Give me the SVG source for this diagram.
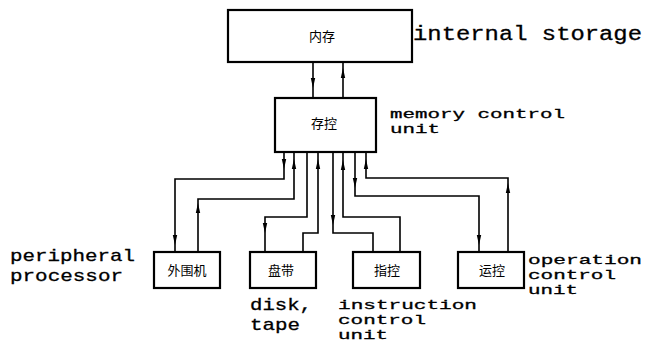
<svg xmlns="http://www.w3.org/2000/svg" xmlns:xlink="http://www.w3.org/1999/xlink" width="646" height="349" viewBox="0 0 646 349">
<style>
.box{fill:#fff;stroke:#000;stroke-width:2.2}
.cn{font-family:"Noto Sans CJK SC","Noto Sans",sans-serif;font-size:13px;fill:#000;text-anchor:middle}
.lb{font-family:"Liberation Mono","DejaVu Sans Mono",monospace;font-size:20px;fill:#000;stroke:#000;stroke-width:0.3}
.md{font-size:17px}
.sm{font-size:13.5px}
.ln{fill:none;stroke:#000;stroke-width:1.6}
.ah{fill:#000;stroke:none}
</style>
<defs>
<path id="dn" class="ah" d="M-2.2,-5 L2.2,-5 L0,5 Z"/>
<path id="up" class="ah" d="M-2.2,5 L2.2,5 L0,-5 Z"/>
</defs>
<rect width="646" height="349" fill="#fff"/>
<g id="connectors">
<path class="ln" d="M313,62 V98"/>
<path class="ln" d="M343,62 V98"/>
<path class="ln" d="M284,152 V179 H175 V252"/>
<path class="ln" d="M294,152 V199 H198 V252"/>
<path class="ln" d="M307,152 V217 H265 V252"/>
<path class="ln" d="M318,152 V233 H303 V252"/>
<path class="ln" d="M333,152 V233 H373 V252"/>
<path class="ln" d="M343,152 V217 H400 V252"/>
<path class="ln" d="M355,152 V196 H479 V252"/>
<path class="ln" d="M366,152 V178 H508 V252"/>
<use xlink:href="#dn" x="313" y="83"/>
<use xlink:href="#up" x="343" y="73"/>
<use xlink:href="#dn" x="284" y="164"/>
<use xlink:href="#dn" x="175" y="240"/>
<use xlink:href="#up" x="294" y="164"/>
<use xlink:href="#up" x="198" y="208"/>
<use xlink:href="#dn" x="265" y="228"/>
<use xlink:href="#up" x="318" y="164"/>
<use xlink:href="#dn" x="333" y="220"/>
<use xlink:href="#up" x="343" y="165"/>
<use xlink:href="#dn" x="355" y="183"/>
<use xlink:href="#dn" x="479" y="240"/>
<use xlink:href="#up" x="366" y="164"/>
<use xlink:href="#up" x="508" y="188"/>
</g>
<g id="internal-storage">
<rect class="box" x="228" y="10" width="184" height="52"/>
<text class="cn" x="322" y="41">内存</text>
<text class="lb" x="413" y="40" textLength="229" lengthAdjust="spacingAndGlyphs">internal storage</text>
</g>
<g id="memory-control">
<rect class="box" x="275" y="98" width="101" height="54"/>
<text class="cn" x="324" y="128">存控</text>
<text class="lb sm" x="390" y="118" textLength="175" lengthAdjust="spacingAndGlyphs">memory control</text>
<text class="lb sm" x="390" y="133" textLength="50" lengthAdjust="spacingAndGlyphs">unit</text>
</g>
<g id="peripheral-processor">
<rect class="box" x="154" y="252" width="66" height="36"/>
<text class="cn" x="187" y="275">外围机</text>
<text class="lb md" x="10" y="261" textLength="125" lengthAdjust="spacingAndGlyphs">peripheral</text>
<text class="lb md" x="10" y="281" textLength="113" lengthAdjust="spacingAndGlyphs">processor</text>
</g>
<g id="disk-tape">
<rect class="box" x="250" y="252" width="66" height="36"/>
<text class="cn" x="281" y="275">盘带</text>
<text class="lb md" x="250" y="310" textLength="62" lengthAdjust="spacingAndGlyphs">disk,</text>
<text class="lb md" x="250" y="330" textLength="50" lengthAdjust="spacingAndGlyphs">tape</text>
</g>
<g id="instruction-control">
<rect class="box" x="353" y="252" width="67" height="36"/>
<text class="cn" x="387" y="275">指控</text>
<text class="lb sm" x="338" y="309" textLength="139" lengthAdjust="spacingAndGlyphs">instruction</text>
<text class="lb sm" x="338" y="324" textLength="88" lengthAdjust="spacingAndGlyphs">control</text>
<text class="lb sm" x="338" y="339" textLength="50" lengthAdjust="spacingAndGlyphs">unit</text>
</g>
<g id="operation-control">
<rect class="box" x="458" y="252" width="66" height="36"/>
<text class="cn" x="492" y="275">运控</text>
<text class="lb sm" x="528" y="264" textLength="114" lengthAdjust="spacingAndGlyphs">operation</text>
<text class="lb sm" x="528" y="279" textLength="88" lengthAdjust="spacingAndGlyphs">control</text>
<text class="lb sm" x="528" y="294" textLength="50" lengthAdjust="spacingAndGlyphs">unit</text>
</g>
</svg>
